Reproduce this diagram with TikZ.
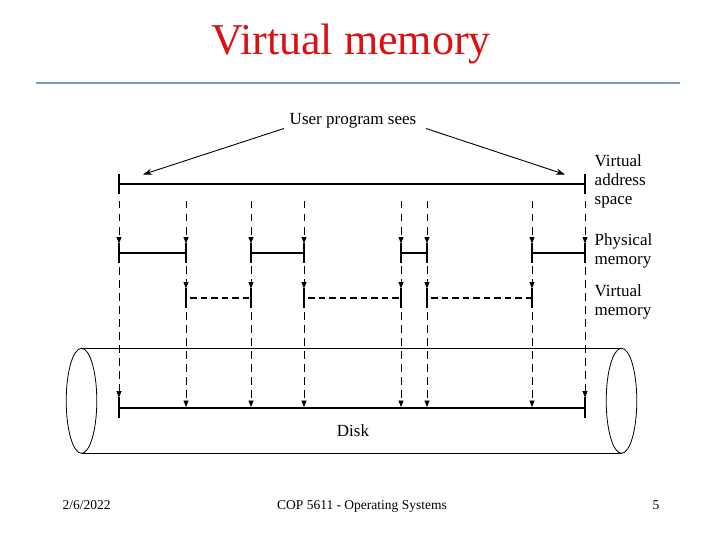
\documentclass[tikz,border=0pt]{standalone}
\usepackage{fontspec}
\setmainfont{Liberation Serif}
\usetikzlibrary{arrows.meta}
\definecolor{titlered}{RGB}{220,16,16}
\definecolor{rulecol}{RGB}{125,155,190}
\begin{document}
\begin{tikzpicture}[x=1pt,y=-1pt,
  lbl/.style={font=\fontsize{17}{20}\selectfont, inner sep=0pt, align=left},
  foot/.style={font=\fontsize{13.5}{16}\selectfont, inner sep=0pt},
  mainline/.style={line width=1.8pt},
  tickline/.style={line width=1.8pt},
  thicktick/.style={line width=2.6pt},
  dashv/.style={line width=0.8pt, dash pattern=on 7.5pt off 5.5pt},
  dashseg/.style={line width=1.6pt, dash pattern=on 6.5pt off 4pt},
  arr/.style={-{Triangle[length=6.5pt,width=5pt]}},
  uarr/.style={-{Stealth[length=9pt,width=6pt]}},
  cyl/.style={line width=0.8pt}
]
\useasboundingbox (0,0) rectangle (720,540);

% title and rule
\node[font=\fontsize{44}{48}\selectfont, text=titlered, anchor=base, inner sep=0pt] (title) at (351,55) {Virtual memory};
\draw[rulecol, line width=2pt] (36,83.5) -- (680,83.5);

% user program sees
\node[lbl, anchor=base] (ups) at (353,125) {User program sees};
\coordinate (upl) at (284,128.5);
\coordinate (upr) at (426,128.5);
\coordinate (upltip) at (143,174.5);
\coordinate (uprtip) at (565,174.5);
\draw[uarr, line width=0.9pt] (upl) -- (upltip);
\draw[uarr, line width=0.9pt] (upr) -- (uprtip);

% virtual address space
\coordinate (va1) at (119,184);
\coordinate (va2) at (585,184);
\draw[mainline] (va1) -- (va2);
\draw[tickline] (119,174) -- (119,194);
\draw[tickline] (585,174) -- (585,194);

% physical memory segments
\foreach \a/\b in {119/186, 251/304, 401/427, 532/585}{
  \draw[mainline] (\a,253) -- (\b,253);
}
\foreach \x in {119,251,401,427,585}{
  \draw[tickline] (\x,243) -- (\x,263);
}
\foreach \x in {186,304,532}{
  \draw[thicktick] (\x,243) -- (\x,263);
}

% virtual memory (dashed) segments
\foreach \a/\b in {186/251, 304/401, 427/532}{
  \draw[dashseg] (\a+4,298) -- (\b,298);
}
\foreach \x in {186,304,427}{
  \draw[thicktick] (\x,288) -- (\x,308);
}
\foreach \x in {251,401,532}{
  \draw[tickline] (\x,288) -- (\x,308);
}

% disk line
\draw[mainline] (119,408) -- (585,408);
\draw[tickline] (119,397) -- (119,418);
\draw[tickline] (585,397) -- (585,418);

% vertical dashed arrows
\foreach \x in {119,186,251,304,401,427,532,585}{
  \draw[dashv, arr] (\x,201) -- (\x,243.5);
}
\foreach \x in {186,251,304,401,427,532}{
  \draw[dashv, arr] (\x,266) -- (\x,288.5);
  \draw[dashv, arr] (\x,312) -- (\x,407);
}
\foreach \x in {119,585}{
  \draw[dashv, arr] (\x,267) -- (\x,397.5);
}

% disk cylinder
\draw[cyl] (81.5,348.3) -- (621.5,348.3);
\draw[cyl] (81.5,453.3) -- (621.5,453.3);
\draw[cyl] (81.5,400.8) ellipse [x radius=15.3pt, y radius=52.5pt];
\draw[cyl] (621.5,400.8) ellipse [x radius=15.3pt, y radius=52.5pt];
\node[lbl, anchor=base] (disk) at (353,436) {Disk};

% right labels
\node[lbl, anchor=base west] (l1a) at (594.5,166.7) {Virtual};
\node[lbl, anchor=base west] (l1b) at (594.5,185.7) {address};
\node[lbl, anchor=base west] (l1c) at (594.5,204.5) {space};
\node[lbl, anchor=base west] (l2a) at (594.5,245) {Physical};
\node[lbl, anchor=base west] (l2b) at (594.5,264) {memory};
\node[lbl, anchor=base west] (l3a) at (594.5,296.7) {Virtual};
\node[lbl, anchor=base west] (l3b) at (594.5,315.5) {memory};

% footer
\node[foot, anchor=base] (date) at (86.5,509) {2/6/2022};
\node[foot, anchor=base] (course) at (362,509) {COP 5611 - Operating Systems};
\node[foot, anchor=base] (page) at (656,509) {5};
\end{tikzpicture}
\end{document}
